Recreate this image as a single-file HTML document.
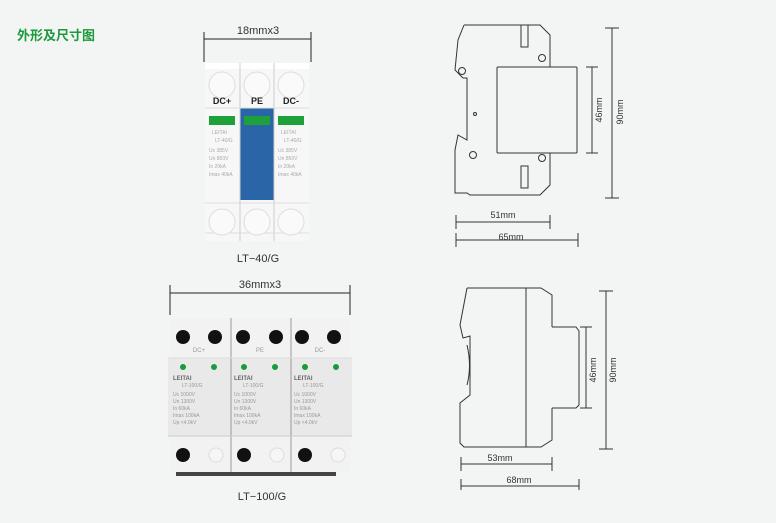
<!DOCTYPE html>
<html><head><meta charset="utf-8"><style>
html,body{margin:0;padding:0;background:#f3f4f4;}
svg{display:block;}
text{font-family:"Liberation Sans","Noto Sans CJK SC",sans-serif;}
</style></head><body>
<svg width="776" height="523" viewBox="0 0 776 523" xmlns="http://www.w3.org/2000/svg">
<rect width="776" height="523" fill="#f3f4f4"/>
<text x="17" y="40" font-size="13" font-weight="bold" fill="#1a9a3c">外形及尺寸图</text>

<!-- Top device LT-40/G -->
<g stroke="#222" stroke-width="1">
<line x1="204" y1="39" x2="311" y2="39"/><line x1="204" y1="32" x2="204" y2="62"/><line x1="311" y1="32" x2="311" y2="62"/>
</g>
<text x="258" y="34" font-size="11" text-anchor="middle" fill="#333">18mmx3</text>
<rect x="205" y="63" width="104" height="178" fill="#f7f7f7"/>
<rect x="205" y="63" width="104" height="6" fill="#fff"/>
<rect x="240" y="108" width="34" height="92" fill="#2a65a8"/>
<line x1="240" y1="63" x2="240" y2="241" stroke="#ccc"/><line x1="274" y1="63" x2="274" y2="241" stroke="#ccc"/>
<line x1="205" y1="108" x2="309" y2="108" stroke="#ddd"/><line x1="205" y1="203" x2="309" y2="203" stroke="#ddd"/>
<line x1="205" y1="233" x2="309" y2="233" stroke="#ddd"/>
<g fill="#fafafa" stroke="#ddd"><circle cx="222" cy="85" r="13"/><circle cx="257" cy="85" r="13"/><circle cx="291" cy="85" r="13"/>
<circle cx="222" cy="222" r="13"/><circle cx="257" cy="222" r="13"/><circle cx="291" cy="222" r="13"/></g>
<g font-size="9" font-weight="bold" fill="#222" text-anchor="middle"><text x="222" y="104">DC+</text><text x="257" y="104">PE</text><text x="291" y="104">DC-</text></g>
<g fill="#1ea03a"><rect x="209" y="116" width="26" height="9"/><rect x="244" y="116" width="26" height="9"/><rect x="278" y="116" width="26" height="9"/></g>
<g font-size="5" fill="#aaa"><text x="212" y="134">LEITAI</text><text x="281" y="134">LEITAI</text>
<text x="215" y="142">LT-40/G</text><text x="284" y="142">LT-40/G</text>
<text x="209" y="152">Uc    385V</text><text x="278" y="152">Uc    385V</text>
<text x="209" y="160">Un    850V</text><text x="278" y="160">Un    850V</text>
<text x="209" y="168">In    20kA</text><text x="278" y="168">In    20kA</text>
<text x="209" y="176">Imax  40kA</text><text x="278" y="176">Imax  40kA</text></g>
<text x="258" y="262" font-size="11" text-anchor="middle" fill="#333">LT−40/G</text>

<!-- Bottom device LT-100/G -->
<g stroke="#222" stroke-width="1">
<line x1="170" y1="293" x2="350" y2="293"/><line x1="170" y1="285" x2="170" y2="315"/><line x1="350" y1="285" x2="350" y2="315"/>
</g>
<text x="260" y="288" font-size="11" text-anchor="middle" fill="#333">36mmx3</text>
<rect x="170" y="318" width="180" height="154" fill="#f2f2f2"/>
<rect x="168" y="358" width="184" height="78" fill="#e9e9e9"/>
<line x1="231" y1="318" x2="231" y2="472" stroke="#999"/><line x1="291" y1="318" x2="291" y2="472" stroke="#999"/>
<line x1="168" y1="358" x2="352" y2="358" stroke="#ddd"/><line x1="168" y1="436" x2="352" y2="436" stroke="#ccc"/>
<rect x="176" y="472" width="160" height="4" fill="#444"/>
<g fill="#111"><circle cx="183" cy="337" r="7"/><circle cx="215" cy="337" r="7"/><circle cx="243" cy="337" r="7"/><circle cx="276" cy="337" r="7"/><circle cx="302" cy="337" r="7"/><circle cx="334" cy="337" r="7"/>
<circle cx="183" cy="455" r="7"/><circle cx="244" cy="455" r="7"/><circle cx="305" cy="455" r="7"/></g>
<g fill="#f6f6f6" stroke="#ddd"><circle cx="216" cy="455" r="7"/><circle cx="277" cy="455" r="7"/><circle cx="338" cy="455" r="7"/></g>
<g font-size="6" fill="#999" text-anchor="middle"><text x="199" y="352">DC+</text><text x="260" y="352">PE</text><text x="320" y="352">DC-</text></g>
<g fill="#1a9a3c"><circle cx="183" cy="367" r="3"/><circle cx="214" cy="367" r="3"/><circle cx="244" cy="367" r="3"/><circle cx="275" cy="367" r="3"/><circle cx="305" cy="367" r="3"/><circle cx="336" cy="367" r="3"/></g>
<g font-size="6" font-weight="bold" fill="#666"><text x="173" y="380">LEITAI</text><text x="234" y="380">LEITAI</text><text x="294" y="380">LEITAI</text></g>
<g font-size="5" fill="#999"><text x="182" y="387">LT-100/G</text><text x="243" y="387">LT-100/G</text><text x="303" y="387">LT-100/G</text>
<text x="173" y="396">Uc     1000V</text><text x="234" y="396">Uc     1000V</text><text x="294" y="396">Uc     1000V</text>
<text x="173" y="403">Un     1300V</text><text x="234" y="403">Un     1300V</text><text x="294" y="403">Un     1300V</text>
<text x="173" y="410">In      60kA</text><text x="234" y="410">In      60kA</text><text x="294" y="410">In      60kA</text>
<text x="173" y="417">Imax   100kA</text><text x="234" y="417">Imax   100kA</text><text x="294" y="417">Imax   100kA</text>
<text x="173" y="424">Up   &lt;4.0kV</text><text x="234" y="424">Up   &lt;4.0kV</text><text x="294" y="424">Up   &lt;4.0kV</text></g>
<text x="262" y="500" font-size="11" text-anchor="middle" fill="#333">LT−100/G</text>

<!-- Side view 1 -->
<g fill="none" stroke="#333" stroke-width="1">
<path d="M464 25 L540 25 L550 35 L550 67 M464 25 L458 40 L455 70 L463 78 L467 78 L467 140 L458 135 L455 150 L455 193 L467 193 L470 195 L540 195 L550 185 L550 153"/>
<rect x="497" y="67" width="80" height="86" rx="1"/>
<rect x="521" y="25" width="7" height="22"/><rect x="521" y="166" width="7" height="22"/>
<circle cx="542" cy="58" r="3.5"/><circle cx="542" cy="158" r="3.5"/><circle cx="462" cy="71" r="3.5"/><circle cx="473" cy="155" r="3.5"/>
<circle cx="475" cy="114" r="1.5"/>
<line x1="612" y1="28" x2="612" y2="198"/><line x1="605" y1="28" x2="619" y2="28"/><line x1="605" y1="198" x2="619" y2="198"/>
<line x1="592" y1="67" x2="592" y2="153"/><line x1="586" y1="67" x2="598" y2="67"/><line x1="586" y1="153" x2="598" y2="153"/>
<line x1="456" y1="222" x2="550" y2="222"/><line x1="456" y1="215" x2="456" y2="229"/><line x1="550" y1="215" x2="550" y2="229"/>
<line x1="456" y1="240" x2="578" y2="240"/><line x1="456" y1="233" x2="456" y2="247"/><line x1="578" y1="233" x2="578" y2="247"/>
</g>
<text x="503" y="218" font-size="9" text-anchor="middle" fill="#333">51mm</text>
<text x="511" y="240" font-size="9" text-anchor="middle" fill="#333">65mm</text>
<text x="0" y="0" font-size="9" fill="#333" text-anchor="middle" transform="translate(602,110) rotate(-90)">46mm</text>
<text x="0" y="0" font-size="9" fill="#333" text-anchor="middle" transform="translate(623,112) rotate(-90)">90mm</text>

<!-- Side view 2 -->
<g fill="none" stroke="#333" stroke-width="1">
<path d="M467 288 L541 288 L552 295 L552 327 M467 288 L460 325 L463 338 L470 336 L470 395 L460 403 L460 443 L464 447 L541 447 L552 440 L552 408"/>
<line x1="526" y1="288" x2="526" y2="447"/>
<path d="M552 327 L576 327 L579 331 L579 405 L576 408 L552 408"/>
<path d="M467 345 Q472 366 467 385"/>
<line x1="606" y1="291" x2="606" y2="449"/><line x1="599" y1="291" x2="613" y2="291"/><line x1="599" y1="449" x2="613" y2="449"/>
<line x1="586" y1="327" x2="586" y2="408"/><line x1="580" y1="327" x2="592" y2="327"/><line x1="580" y1="408" x2="592" y2="408"/>
<line x1="461" y1="464" x2="552" y2="464"/><line x1="461" y1="457" x2="461" y2="471"/><line x1="552" y1="457" x2="552" y2="471"/>
<line x1="461" y1="486" x2="579" y2="486"/><line x1="461" y1="479" x2="461" y2="490"/><line x1="579" y1="479" x2="579" y2="490"/>
</g>
<text x="500" y="461" font-size="9" text-anchor="middle" fill="#333">53mm</text>
<text x="519" y="483" font-size="9" text-anchor="middle" fill="#333">68mm</text>
<text x="0" y="0" font-size="9" fill="#333" text-anchor="middle" transform="translate(596,370) rotate(-90)">46mm</text>
<text x="0" y="0" font-size="9" fill="#333" text-anchor="middle" transform="translate(616,370) rotate(-90)">90mm</text>
</svg>
</body></html>
